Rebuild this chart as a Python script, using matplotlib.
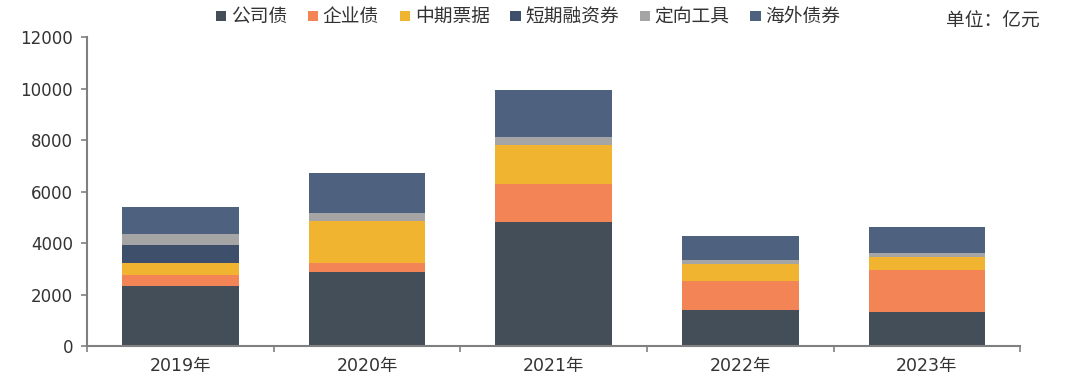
import matplotlib
matplotlib.use("Agg")
import matplotlib.pyplot as plt
import numpy as np

plt.rcParams['font.family'] = ['DejaVu Sans', 'Noto Sans CJK SC']

# -- Data (亿元) ---------------------------------------------------------------
years = ["2019年", "2020年", "2021年", "2022年", "2023年"]
series = ["公司债", "企业债", "中期票据", "短期融资券", "定向工具", "海外债券"]
gongsi = [2330, 2870, 4800, 1400, 1320]
qiye = [440, 350, 1475, 1110, 1645]
zhongqi = [440, 1630, 1530, 660, 480]
duanrong = [710, 0, 0, 0, 0]
dingxiang = [420, 320, 320, 155, 170]
haiwai = [1050, 1540, 1815, 945, 1020]

colors = ["#434E59", "#F28455", "#F0B430", "#3E4F6B", "#A5A5A5", "#4E627F"]

fig = plt.figure(figsize=(10.8, 3.82), dpi=100)
ax = fig.add_axes([0.0806, 0.094, 0.864, 0.809])

x = np.arange(len(years))
bottom = np.zeros(len(years))
for name, vals, c in zip(series, [gongsi, qiye, zhongqi, duanrong, dingxiang, haiwai], colors):
    ax.bar(x, vals, width=0.625, bottom=bottom, color=c, label=name, zorder=2)
    bottom += np.array(vals)

ax.set_xlim(-0.5, len(years) - 0.5)
ax.set_ylim(0, 12000)
ax.set_yticks(range(0, 12001, 2000))
ax.tick_params(axis="y", labelsize=12, colors="#808080", labelcolor="#333333",
               direction="out", length=4, width=1.2, pad=6)
ax.set_xticks(x)
ax.set_xticklabels(years)
ax.set_xticks(np.arange(-0.5, len(years)), minor=True)
ax.tick_params(axis="x", which="major", length=0, labelsize=12.5, labelcolor="#333333", pad=8)
ax.tick_params(axis="x", which="minor", length=4, width=1.2, colors="#808080", direction="out")

for s in ["top", "right"]:
    ax.spines[s].set_visible(False)
for s in ["left", "bottom"]:
    ax.spines[s].set_color("#808080")
    ax.spines[s].set_linewidth(1.5)

fig.legend(loc="upper center", bbox_to_anchor=(0.489, 1.025), ncol=6, frameon=False,
           fontsize=13.5, handlelength=0.55, handleheight=0.45, handletextpad=0.25,
           columnspacing=1.1, labelcolor="#333333")
fig.text(0.963, 0.945, "单位：亿元", ha="right", va="center", fontsize=13.5, color="#333333")

fig.savefig("out.png", dpi=100)
